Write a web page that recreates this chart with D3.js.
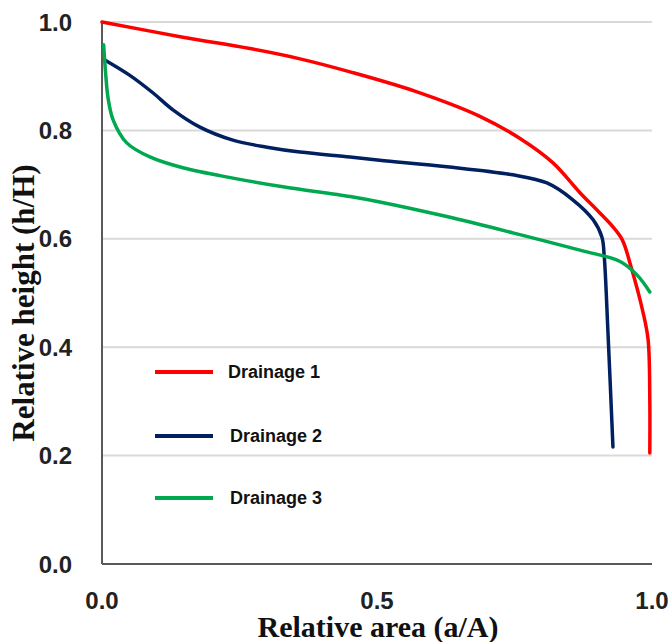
<!DOCTYPE html>
<html>
<head>
<meta charset="utf-8">
<title>Relative height vs relative area</title>
<script src="https://d3js.org/d3.v7.min.js"></script>
<style>
  body { margin: 0; background: #fff; }
  .tick-label { font-family: "Liberation Sans", Arial, sans-serif; font-weight: bold; font-size: 24px; fill: #222; }
  .axis-title { font-family: "Liberation Serif", "Times New Roman", serif; font-weight: bold; fill: #111; }
  .legend-text { font-family: "Liberation Sans", Arial, sans-serif; font-weight: bold; font-size: 18px; fill: #111; }
</style>
</head>
<body>
<svg width="671" height="642"></svg>
<script>
// values
var x1 = [0, 0.147, 0.269, 0.36, 0.451, 0.57, 0.687, 0.76, 0.82, 0.869, 0.9, 0.929, 0.946, 0.962, 0.984, 0.993, 0.996, 0.996];
var y1 = [1.0, 0.972, 0.951, 0.932, 0.908, 0.872, 0.826, 0.785, 0.74, 0.685, 0.653, 0.622, 0.598, 0.548, 0.463, 0.413, 0.303, 0.205];

var x2 = [0.005, 0.05, 0.093, 0.129, 0.178, 0.238, 0.3, 0.36, 0.451, 0.505, 0.627, 0.747, 0.809, 0.856, 0.893, 0.909, 0.913, 0.92, 0.929];
var y2 = [0.93, 0.902, 0.869, 0.838, 0.806, 0.782, 0.769, 0.76, 0.751, 0.745, 0.733, 0.718, 0.703, 0.672, 0.635, 0.603, 0.57, 0.426, 0.216];

var x3 = [0.003, 0.007, 0.011, 0.02, 0.045, 0.087, 0.147, 0.238, 0.329, 0.451, 0.505, 0.627, 0.747, 0.869, 0.942, 0.973, 0.996];
var y3 = [0.958, 0.90, 0.86, 0.82, 0.777, 0.751, 0.731, 0.712, 0.696, 0.678, 0.668, 0.641, 0.611, 0.579, 0.558, 0.533, 0.502];

var seriesNames = ["Drainage 1", "Drainage 2", "Drainage 3"];
var seriesColors = ["#ff0000", "#002060", "#00a850"];
var xTicks = [0, 0.5, 1.0];
var yTicks = [0, 0.2, 0.4, 0.6, 0.8, 1.0];

var svg = d3.select("svg"),
    margin = {top: 22, right: 19, bottom: 78, left: 102},
    width = +svg.attr("width") - margin.left - margin.right,
    height = +svg.attr("height") - margin.top - margin.bottom;

var x = d3.scaleLinear().domain([0, 1]).range([0, width]);
var y = d3.scaleLinear().domain([0, 1]).range([height, 0]);

var g = svg.append("g")
    .attr("transform", "translate(" + margin.left + "," + margin.top + ")");

// horizontal gridlines
g.selectAll(".grid")
    .data(yTicks.filter(function(d) { return d > 0; }))
    .enter().append("line")
    .attr("x1", 0).attr("x2", width)
    .attr("y1", function(d) { return y(d); })
    .attr("y2", function(d) { return y(d); })
    .attr("stroke", "#d9d9d9")
    .attr("stroke-width", 2);

// axes lines
g.append("line").attr("x1", 0).attr("x2", 0).attr("y1", 0).attr("y2", height)
    .attr("stroke", "#595959").attr("stroke-width", 2);
g.append("line").attr("x1", 0).attr("x2", width).attr("y1", height).attr("y2", height)
    .attr("stroke", "#595959").attr("stroke-width", 2);

// tick labels
g.selectAll(".ylab")
    .data(yTicks)
    .enter().append("text")
    .attr("class", "tick-label")
    .attr("x", -30)
    .attr("y", function(d) { return y(d); })
    .attr("dy", "0.36em")
    .attr("text-anchor", "end")
    .text(function(d) { return d3.format(".1f")(d); });

g.selectAll(".xlab")
    .data(xTicks)
    .enter().append("text")
    .attr("class", "tick-label")
    .attr("x", function(d) { return x(d); })
    .attr("y", height + 36)
    .attr("dy", "0.36em")
    .attr("text-anchor", "middle")
    .text(function(d) { return d3.format(".1f")(d); });

// axis titles
svg.append("text")
    .attr("class", "axis-title")
    .attr("x", 378)
    .attr("y", 637)
    .attr("text-anchor", "middle")
    .style("font-size", "30px")
    .text("Relative area (a/A)");

svg.append("text")
    .attr("class", "axis-title")
    .attr("transform", "translate(34,303) rotate(-90)")
    .attr("text-anchor", "middle")
    .style("font-size", "31px")
    .text("Relative height (h/H)");

// curves
var line = d3.line()
    .x(function(d) { return x(d[0]); })
    .y(function(d) { return y(d[1]); })
    .curve(d3.curveCatmullRom.alpha(0.5));

var series = [d3.zip(x1, y1), d3.zip(x2, y2), d3.zip(x3, y3)];

g.selectAll(".curve")
    .data(series)
    .enter().append("path")
    .attr("d", line)
    .attr("fill", "none")
    .attr("stroke", function(d, i) { return seriesColors[i]; })
    .attr("stroke-width", 3.5)
    .attr("stroke-linejoin", "round")
    .attr("stroke-linecap", "round");

// legend
var legendY = [372, 436, 498];
var legendTextX = [228, 230, 230];
var legend = svg.selectAll(".legend")
    .data(seriesNames)
    .enter().append("g")
    .attr("transform", function(d, i) { return "translate(0," + legendY[i] + ")"; });

legend.append("line")
    .attr("x1", 155).attr("x2", 213)
    .attr("y1", 0).attr("y2", 0)
    .attr("stroke", function(d, i) { return seriesColors[i]; })
    .attr("stroke-width", 4);

legend.append("text")
    .attr("class", "legend-text")
    .attr("x", function(d, i) { return legendTextX[i]; })
    .attr("y", 0)
    .attr("dy", "0.36em")
    .text(function(d) { return d; });
</script>
</body>
</html>
